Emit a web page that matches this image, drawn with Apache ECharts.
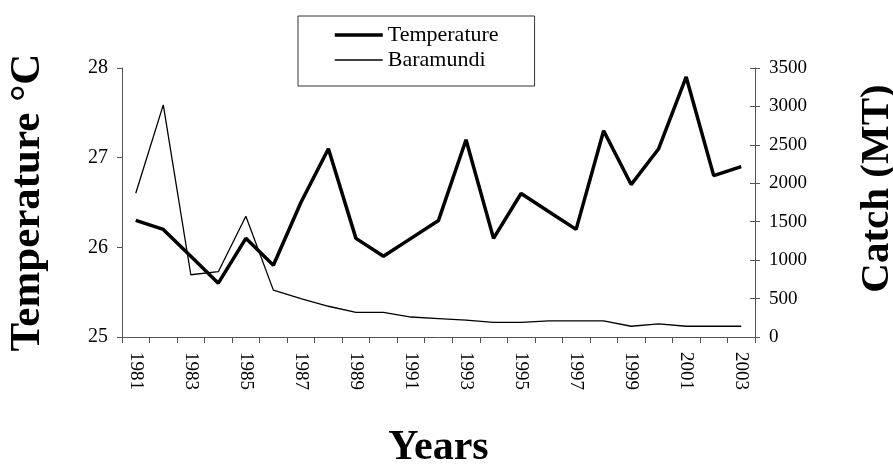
<!DOCTYPE html>
<html>
<head>
<meta charset="utf-8">
<script src="https://cdn.jsdelivr.net/npm/echarts@6/dist/echarts.min.js"></script>
<style>
  html, body { margin: 0; padding: 0; background: #fff; }
  #main { width: 893px; height: 465px; }
</style>
</head>
<body>
<div id="main"></div>
<script>
// data
var years = ['1981', '1982', '1983', '1984', '1985', '1986', '1987', '1988', '1989', '1990', '1991', '1992',
  '1993', '1994', '1995', '1996', '1997', '1998', '1999', '2000', '2001', '2002', '2003'];
var temperature = [26.3, 26.2, 25.9, 25.6, 26.1, 25.8, 26.5, 27.1, 26.1, 25.9, 26.1, 26.3,
  27.2, 26.1, 26.6, 26.4, 26.2, 27.3, 26.7, 27.1, 27.9, 26.8, 26.9];
var baramundi = [1870, 3020, 810, 850, 1570, 610, 500, 400, 320, 320, 260, 240,
  220, 190, 190, 210, 210, 210, 140, 170, 140, 140, 140];

var serif = 'Liberation Serif, Times New Roman, serif';
var axisColor = '#555';

var chart = echarts.init(document.getElementById('main'));
var option = {
  backgroundColor: '#fff',
  animation: false,
  legend: {
    orient: 'vertical',
    left: 298,
    top: 16,
    padding: [8, 36, 15, 35],
    itemGap: 3,
    itemWidth: 48,
    itemHeight: 16,
    borderColor: '#333',
    borderWidth: 1,
    // hide the dot that line series add to their legend icon
    itemStyle: { opacity: 0 },
    textStyle: { fontFamily: serif, fontSize: 22, color: '#000' },
    data: [
      { name: 'Temperature', lineStyle: { width: 3.5, color: '#000' } },
      { name: 'Baramundi', lineStyle: { width: 1.3, color: '#000' } }
    ]
  },
  grid: { left: 122, right: 138, top: 68, bottom: 128, outerBoundsMode: 'none', containLabel: false },
  xAxis: {
    type: 'category',
    data: years,
    boundaryGap: true,
    name: 'Years',
    nameLocation: 'middle',
    nameGap: 90,
    nameTextStyle: { fontFamily: serif, fontSize: 42, fontWeight: 'bold', color: '#000' },
    axisLine: { lineStyle: { color: axisColor } },
    axisTick: { show: true, length: 6, interval: 0, lineStyle: { color: axisColor } },
    axisLabel: {
      interval: 1,
      rotate: -90,
      margin: 15,
      fontFamily: serif,
      fontSize: 19,
      color: '#000'
    }
  },
  yAxis: [
    {
      type: 'value',
      min: 25,
      max: 28,
      interval: 1,
      name: 'Temperature °C',
      nameLocation: 'middle',
      nameGap: 73,
      nameTextStyle: { fontFamily: serif, fontSize: 43, fontWeight: 'bold', color: '#000' },
      axisLine: { show: true, lineStyle: { color: axisColor } },
      axisTick: { show: true, length: 5, lineStyle: { color: axisColor } },
      splitLine: { show: false },
      axisLabel: { fontFamily: serif, fontSize: 20, color: '#000', margin: 14 }
    },
    {
      type: 'value',
      position: 'right',
      min: 0,
      max: 3500,
      interval: 500,
      name: 'Catch (MT)',
      nameLocation: 'middle',
      nameGap: 102,
      nameRotate: 90,
      nameTextStyle: {
        fontFamily: serif, fontSize: 41, fontWeight: 'bold', color: '#000',
        padding: [0, 0, 0, 28]
      },
      axisLine: { show: true, lineStyle: { color: axisColor } },
      axisTick: { show: true, length: 5, lineStyle: { color: axisColor } },
      splitLine: { show: false },
      axisLabel: {
        fontFamily: serif, fontSize: 19, color: '#000', margin: 14,
        formatter: function (v) { return String(v); }
      }
    },
    {
      // inner half of the crossing ticks on the right axis
      type: 'value',
      position: 'right',
      min: 0,
      max: 3500,
      interval: 500,
      axisLine: { show: false },
      axisTick: { show: true, inside: true, length: 5, lineStyle: { color: axisColor } },
      axisLabel: { show: false },
      splitLine: { show: false }
    }
  ],
  series: [
    {
      name: 'Temperature',
      type: 'line',
      yAxisIndex: 0,
      data: temperature,
      symbol: 'none',
      lineStyle: { color: '#000', width: 3.5 },
      itemStyle: { color: '#000' }
    },
    {
      name: 'Baramundi',
      type: 'line',
      yAxisIndex: 1,
      data: baramundi,
      symbol: 'none',
      lineStyle: { color: '#000', width: 1.3 },
      itemStyle: { color: '#000' }
    }
  ]
};
chart.setOption(option);
</script>
</body>
</html>
